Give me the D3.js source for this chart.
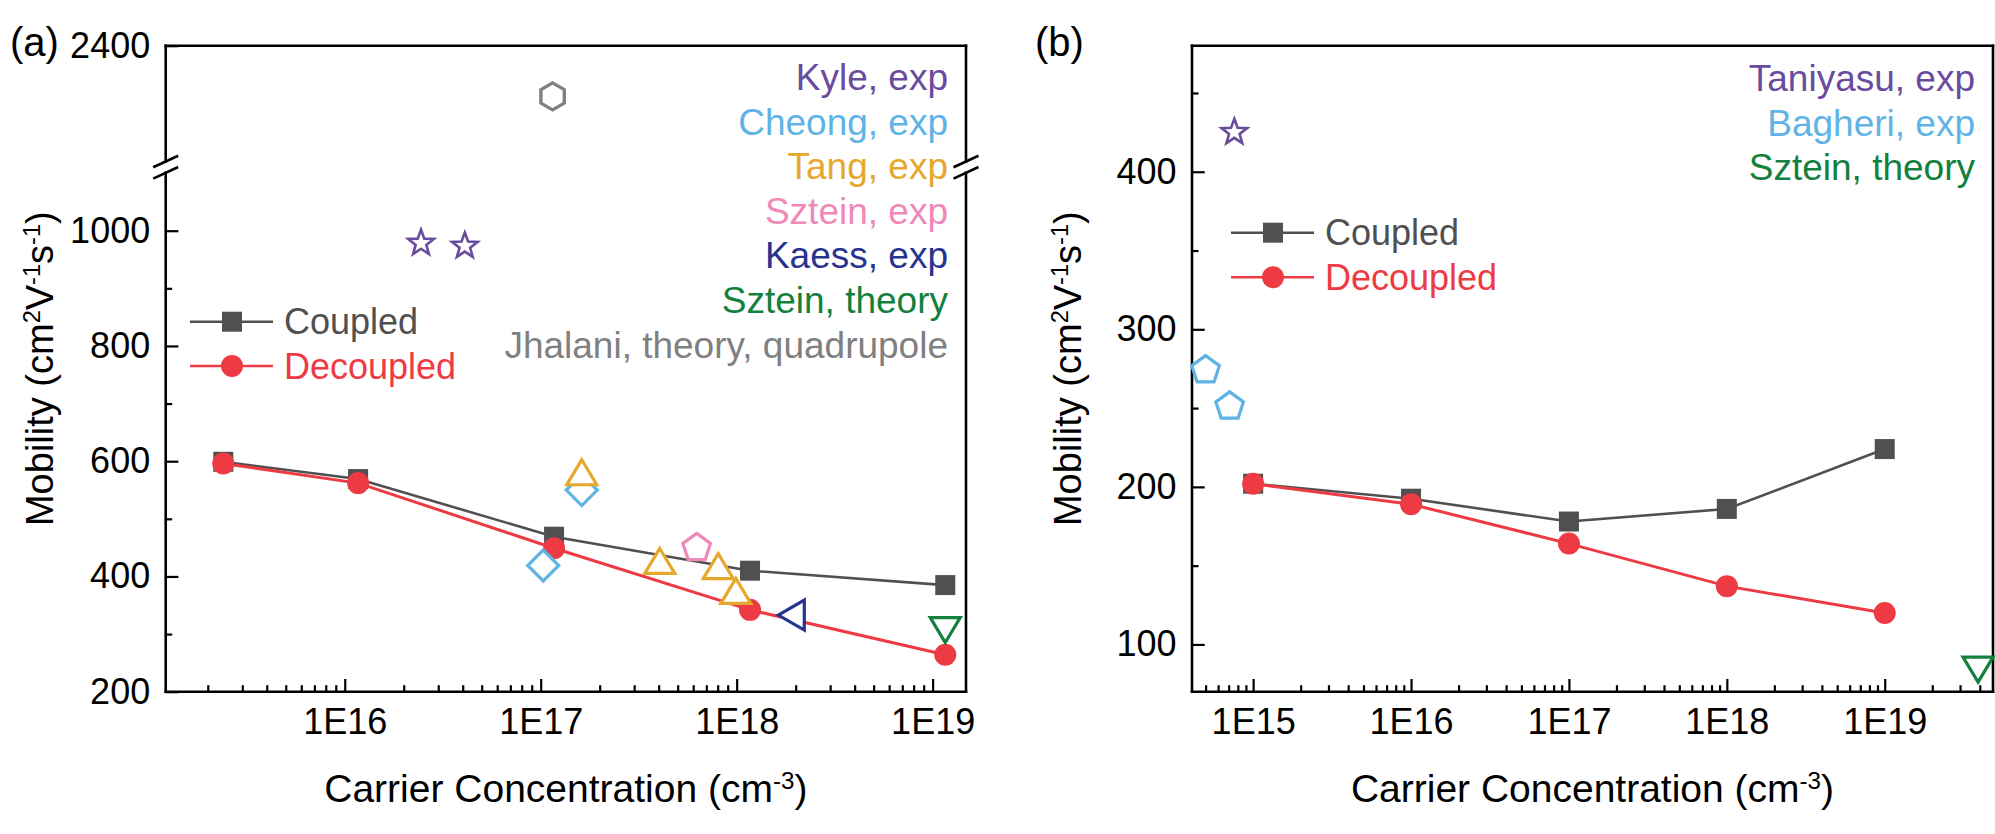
<!DOCTYPE html>
<html><head><meta charset="utf-8">
<script src="https://cdn.jsdelivr.net/npm/d3@7"></script>
<style>
body{margin:0;background:#fff;}
svg{display:block;}
text{font-family:"Liberation Sans",Arial,sans-serif;}
</style>
</head><body>
<svg id="chart" width="1995" height="834"></svg>
<script>
// ---------------- DATA ----------------
// Panel (a)
const aX = [2.4e15, 1.17e16, 1.17e17, 1.17e18, 1.16e19];
const aCoupled = [599, 569, 469, 410, 385];
const aDecoupled = [596, 562, 449, 342, 264];
const kyleX = [2.45e16, 4.1e16], kyleY = [981, 976];
const cheongX = [1.03e17, 1.62e17], cheongY = [419, 550];
const tangX = [1.62e17, 4.05e17, 8.05e17, 9.9e17], tangY = [580, 426, 417, 374];
const szteinExpX = [6.25e17], szteinExpY = [452];
const kaessX = [1.9e18], kaessY = [333];
const szteinThAX = [1.16e19], szteinThAY = [307];
const jhalaniX = [1.15e17], jhalaniY = [2225];
const aLowTicks = [200, 400, 600, 800, 1000];
const aLowMinor = [300, 500, 700, 900];
const aHighTicks = [2400];
const aXTicks = [1e16, 1e17, 1e18, 1e19];
const aLabels = ["Kyle, exp", "Cheong, exp", "Tang, exp", "Sztein, exp", "Kaess, exp", "Sztein, theory", "Jhalani, theory, quadrupole"];
// Panel (b)
const bX = [1e15, 1e16, 1e17, 1e18, 1e19];
const bCoupled = [202, 192.5, 178, 186, 224];
const bDecoupled = [202, 189, 164, 137, 120];
const taniyasuX = [7.6e14], taniyasuY = [426];
const bagheriX = [5.0e14, 7.1e14], bagheriY = [275, 252];
const szteinThBX = [3.9e19], szteinThBY = [84];
const bYTicks = [100, 200, 300, 400];
const bYMinor = [150, 250, 350, 450];
const bXTicks = [1e15, 1e16, 1e17, 1e18, 1e19];
const bLabels = ["Taniyasu, exp", "Bagheri, exp", "Sztein, theory"];
const seriesNames = ["Coupled", "Decoupled"];

// ---------------- STYLE ----------------
const C = {
  coupled: "#505050", decoupled: "#ee3a43",
  purple: "#6a4c9e", lblue: "#5fb4e5", gold: "#e6a82c", pink: "#ef89b8",
  navy: "#27348f", green: "#13803e", gray: "#808080"
};
const aLabelColors = [C.purple, C.lblue, C.gold, C.pink, C.navy, C.green, C.gray];
const bLabelColors = [C.purple, C.lblue, C.green];

const svg = d3.select("#chart");
const FONT = 36;
const LBLFONT = 37;

// ---------------- HELPERS ----------------
function polyPath(pts){ return "M" + pts.map(p => p[0].toFixed(2) + "," + p[1].toFixed(2)).join("L") + "Z"; }
function regular(n, r, rot){
  return d3.range(n).map(i => { const a = rot + i * 2 * Math.PI / n; return [r * Math.sin(a), -r * Math.cos(a)]; });
}
const shapes = {
  square: () => polyPath([[-10,-10],[10,-10],[10,10],[-10,10]]),
  triUp: () => polyPath([[0,-13],[15,12],[-15,12]]),
  triDown: () => polyPath([[0,12.5],[15,-12.5],[-15,-12.5]]),
  triLeft: () => polyPath([[-13,0],[13,-15],[13,15]]),
  diamond: () => polyPath([[0,-15.5],[15.5,0],[0,15.5],[-15.5,0]]),
  pentagon: () => polyPath(regular(5, 14.5, 0).map(p => [p[0], p[1] + 1.4])),
  hexagon: () => polyPath(regular(6, 13.5, 0)),
  star: () => polyPath(d3.range(10).map(i => { const r = i % 2 ? 5.6 : 13.5; const a = i * Math.PI / 5; return [r * Math.sin(a), -r * Math.cos(a) + 1.5]; }))
};

function frameSeg(g, x1, y1, x2, y2){
  g.append("line").attr("x1", x1).attr("y1", y1).attr("x2", x2).attr("y2", y2)
    .attr("stroke", "#000").attr("stroke-width", 2.6).attr("stroke-linecap", "square");
}

function styleAxis(g){
  g.select(".domain").remove();
  g.selectAll(".tick line").attr("stroke", "#000").attr("stroke-width", 2.2);
  g.selectAll(".tick text").attr("font-size", FONT).attr("fill", "#000")
    .attr("font-family", "'Liberation Sans',Arial,sans-serif");
}

function drawMarkers(g, xs, ys, x, y, shape, color, opts = {}){
  g.selectAll(null).data(xs.map((d, i) => [d, ys[i]])).enter().append("path")
    .attr("d", shapes[shape]())
    .attr("transform", d => `translate(${x(d[0])},${y(d[1])})`)
    .attr("fill", opts.fill || "#fff")
    .attr("stroke", color)
    .attr("stroke-width", opts.sw || 3.2)
    .attr("stroke-linejoin", "miter");
}

function drawSeries(g, xs, ys, x, y, color, sw, marker){
  g.append("path").datum(xs.map((d, i) => [d, ys[i]]))
    .attr("fill", "none").attr("stroke", color).attr("stroke-width", sw)
    .attr("d", d3.line().x(d => x(d[0])).y(d => y(d[1])));
  if (marker === "circle"){
    g.selectAll(null).data(xs.map((d, i) => [d, ys[i]])).enter().append("circle")
      .attr("cx", d => x(d[0])).attr("cy", d => y(d[1])).attr("r", 11).attr("fill", color);
  } else {
    g.selectAll(null).data(xs.map((d, i) => [d, ys[i]])).enter().append("path")
      .attr("d", shapes.square()).attr("transform", d => `translate(${x(d[0])},${y(d[1])})`).attr("fill", color);
  }
}

function minorLog(domain){
  const out = [];
  for (let e = Math.floor(Math.log10(domain[0])); e <= Math.ceil(Math.log10(domain[1])); e++){
    for (let m = 2; m <= 9; m++){ const v = m * Math.pow(10, e); if (v > domain[0] && v < domain[1]) out.push(v); }
  }
  return out;
}
const expFmt = d => "1E" + Math.round(Math.log10(d));
const intFmt = d3.format("d");

function supText(t, parts, sizeMain){
  parts.forEach(p => {
    if (p.sup){
      t.append("tspan").attr("baseline-shift", "super").attr("font-size", sizeMain * 0.62).text(p.sup);
    } else {
      t.append("tspan").text(p.t);
    }
  });
}

function legend(g, x0, yC, yD){
  const lx1 = x0, lx2 = x0 + 83, mx = x0 + 42, tx = x0 + 94;
  g.append("line").attr("x1", lx1).attr("x2", lx2).attr("y1", yC).attr("y2", yC).attr("stroke", C.coupled).attr("stroke-width", 2.5);
  g.append("path").attr("d", shapes.square()).attr("transform", `translate(${mx},${yC})`).attr("fill", C.coupled);
  g.append("text").attr("x", tx).attr("y", yC + 12.6).attr("font-size", FONT).attr("fill", C.coupled).text(seriesNames[0]);
  g.append("line").attr("x1", lx1).attr("x2", lx2).attr("y1", yD).attr("y2", yD).attr("stroke", C.decoupled).attr("stroke-width", 2.5);
  g.append("circle").attr("cx", mx).attr("cy", yD).attr("r", 11).attr("fill", C.decoupled);
  g.append("text").attr("x", tx).attr("y", yD + 12.6).attr("font-size", FONT).attr("fill", C.decoupled).text(seriesNames[1]);
}

// ---------------- PANEL A ----------------
{
  const L = 165.7, R = 966, T = 45.7, B = 691.7;
  const breakTop = 161.5, breakBot = 172.8;
  const xDom = [1.22e15, 1.48e19];
  const x = d3.scaleLog().domain(xDom).range([L, R]);
  const yLow = d3.scaleLinear().domain([200, 1100]).range([B, B - 900 * 0.57625]);
  const yHigh = d3.scaleLinear().domain([2000, 2400]).range([breakTop, T]);
  const g = svg.append("g");

  const gxMinor = g.append("g").attr("transform", `translate(0,${B})`)
    .call(d3.axisBottom(x).tickValues(minorLog(xDom)).tickSizeInner(-6.5).tickSizeOuter(0).tickFormat(""));
  styleAxis(gxMinor);
  const gx = g.append("g").attr("transform", `translate(0,${B})`)
    .call(d3.axisBottom(x).tickValues(aXTicks).tickSizeInner(-12.7).tickSizeOuter(0).tickPadding(16.5).tickFormat(expFmt));
  styleAxis(gx);
  const gyLowMinor = g.append("g").attr("transform", `translate(${L},0)`)
    .call(d3.axisLeft(yLow).tickValues(aLowMinor).tickSizeInner(-6.5).tickSizeOuter(0).tickFormat(""));
  styleAxis(gyLowMinor);
  const gyLow = g.append("g").attr("transform", `translate(${L},0)`)
    .call(d3.axisLeft(yLow).tickValues(aLowTicks).tickSizeInner(-12.7).tickSizeOuter(0).tickPadding(15.5).tickFormat(intFmt));
  styleAxis(gyLow);
  const gyHigh = g.append("g").attr("transform", `translate(${L},0)`)
    .call(d3.axisLeft(yHigh).tickValues(aHighTicks).tickSizeInner(-12.7).tickSizeOuter(0).tickPadding(15.5).tickFormat(intFmt));
  styleAxis(gyHigh);

  frameSeg(g, L, T, R, T); frameSeg(g, L, B, R, B);
  frameSeg(g, L, T, L, breakTop); frameSeg(g, L, breakBot, L, B);
  frameSeg(g, R, T, R, breakTop); frameSeg(g, R, breakBot, R, B);
  [L, R].forEach(xx => {
    [breakTop, breakBot].forEach(yy => {
      g.append("line").attr("x1", xx - 12.5).attr("y1", yy + 5.8).attr("x2", xx + 12.5).attr("y2", yy - 5.8)
        .attr("stroke", "#000").attr("stroke-width", 2.6);
    });
  });

  drawSeries(g, aX, aCoupled, x, yLow, C.coupled, 2.6, "square");
  drawSeries(g, aX, aDecoupled, x, yLow, C.decoupled, 3, "circle");

  drawMarkers(g, kyleX, kyleY, x, yLow, "star", C.purple, {sw: 2.6});
  drawMarkers(g, cheongX, cheongY, x, yLow, "diamond", C.lblue);
  drawMarkers(g, tangX, tangY, x, yLow, "triUp", C.gold);
  drawMarkers(g, szteinExpX, szteinExpY, x, yLow, "pentagon", C.pink);
  drawMarkers(g, kaessX, kaessY, x, yLow, "triLeft", C.navy);
  drawMarkers(g, szteinThAX, szteinThAY, x, yLow, "triDown", C.green);
  drawMarkers(g, jhalaniX, jhalaniY, x, yHigh, "hexagon", C.gray, {sw: 3.4});

  aLabels.forEach((t, i) => {
    g.append("text").attr("x", 948).attr("y", 90 + i * 44.6).attr("text-anchor", "end")
      .attr("font-size", LBLFONT).attr("fill", aLabelColors[i]).text(t);
  });

  legend(g, 190, 321.7, 366);

  const xt = g.append("text").attr("x", (L + R) / 2).attr("y", 802).attr("text-anchor", "middle").attr("font-size", 39).attr("fill", "#000");
  supText(xt, [{t: "Carrier Concentration (cm"}, {sup: "-3"}, {t: ")"}], 39);
  const yt = g.append("text").attr("transform", `translate(52.5,${(T + B) / 2}) rotate(-90)`).attr("text-anchor", "middle").attr("font-size", 38).attr("fill", "#000");
  supText(yt, [{t: "Mobility (cm"}, {sup: "2"}, {t: "V"}, {sup: "-1"}, {t: "s"}, {sup: "-1"}, {t: ")"}], 38);
  g.append("text").attr("x", 10).attr("y", 56).attr("font-size", 40).attr("fill", "#000").text("(a)");
}

// ---------------- PANEL B ----------------
{
  const L = 1192, R = 1993, T = 45.7, B = 691.7;
  const xDom = [4.1e14, 4.85e19];
  const x = d3.scaleLog().domain(xDom).range([L, R]);
  const y = d3.scaleLinear().domain([70, 480]).range([B, T]);
  const g = svg.append("g");

  const gxMinor = g.append("g").attr("transform", `translate(0,${B})`)
    .call(d3.axisBottom(x).tickValues(minorLog(xDom)).tickSizeInner(-6.5).tickSizeOuter(0).tickFormat(""));
  styleAxis(gxMinor);
  const gx = g.append("g").attr("transform", `translate(0,${B})`)
    .call(d3.axisBottom(x).tickValues(bXTicks).tickSizeInner(-12.7).tickSizeOuter(0).tickPadding(16.5).tickFormat(expFmt));
  styleAxis(gx);
  const gyMinor = g.append("g").attr("transform", `translate(${L},0)`)
    .call(d3.axisLeft(y).tickValues(bYMinor).tickSizeInner(-6.5).tickSizeOuter(0).tickFormat(""));
  styleAxis(gyMinor);
  const gy = g.append("g").attr("transform", `translate(${L},0)`)
    .call(d3.axisLeft(y).tickValues(bYTicks).tickSizeInner(-12.7).tickSizeOuter(0).tickPadding(15.5).tickFormat(intFmt));
  styleAxis(gy);

  frameSeg(g, L, T, R, T); frameSeg(g, L, B, R, B);
  frameSeg(g, L, T, L, B); frameSeg(g, R, T, R, B);

  drawSeries(g, bX, bCoupled, x, y, C.coupled, 2.6, "square");
  drawSeries(g, bX, bDecoupled, x, y, C.decoupled, 3, "circle");

  drawMarkers(g, taniyasuX, taniyasuY, x, y, "star", C.purple, {sw: 2.6});
  drawMarkers(g, bagheriX, bagheriY, x, y, "pentagon", C.lblue);
  drawMarkers(g, szteinThBX, szteinThBY, x, y, "triDown", C.green);

  bLabels.forEach((t, i) => {
    g.append("text").attr("x", 1975).attr("y", 91 + i * 44.6).attr("text-anchor", "end")
      .attr("font-size", LBLFONT).attr("fill", bLabelColors[i]).text(t);
  });

  legend(g, 1231, 232.7, 277.3);

  const xt = g.append("text").attr("x", (L + R) / 2).attr("y", 802).attr("text-anchor", "middle").attr("font-size", 39).attr("fill", "#000");
  supText(xt, [{t: "Carrier Concentration (cm"}, {sup: "-3"}, {t: ")"}], 39);
  const yt = g.append("text").attr("transform", `translate(1081,${(T + B) / 2}) rotate(-90)`).attr("text-anchor", "middle").attr("font-size", 38).attr("fill", "#000");
  supText(yt, [{t: "Mobility (cm"}, {sup: "2"}, {t: "V"}, {sup: "-1"}, {t: "s"}, {sup: "-1"}, {t: ")"}], 38);
  g.append("text").attr("x", 1035).attr("y", 56).attr("font-size", 40).attr("fill", "#000").text("(b)");
}
</script>
</body></html>
